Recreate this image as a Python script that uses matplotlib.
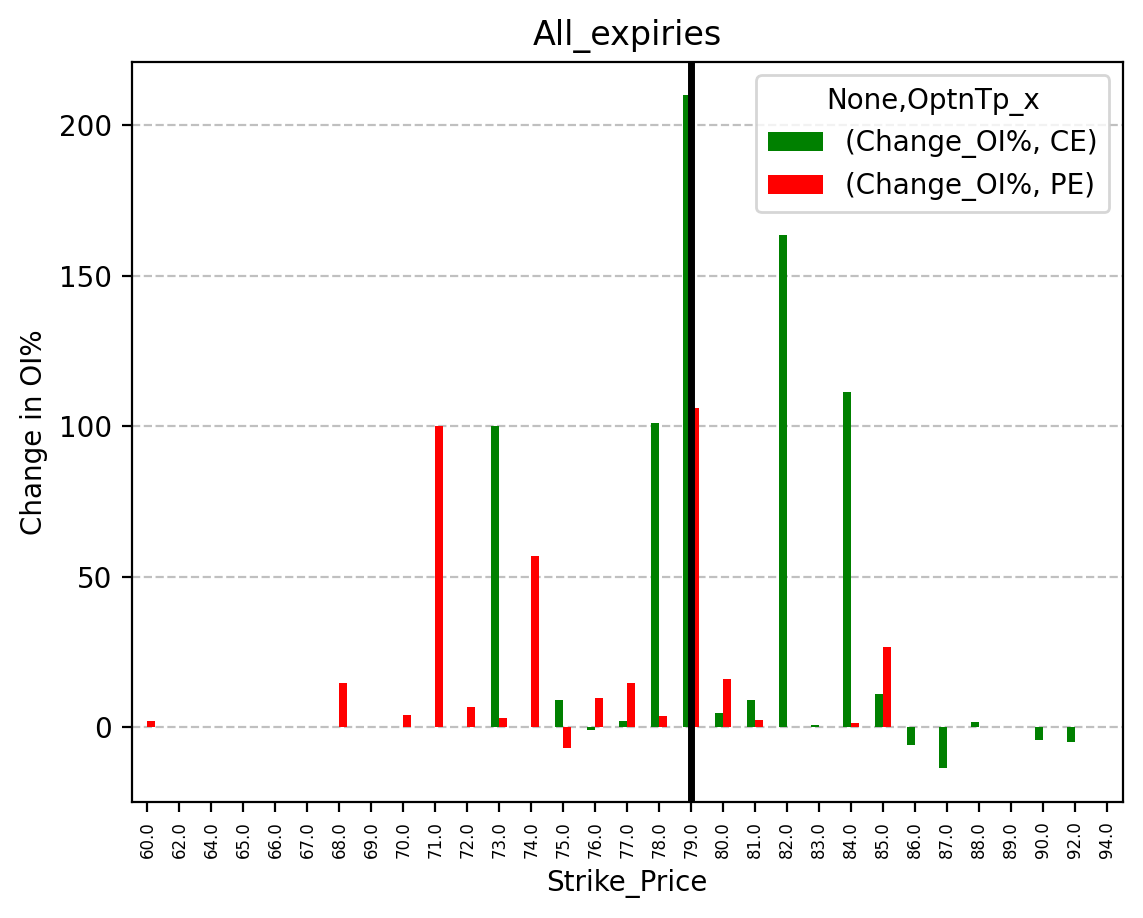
import numpy as np
import matplotlib
matplotlib.use("Agg")
import matplotlib.pyplot as plt

# strike prices and % change in open interest
strikes = ['60.0', '62.0', '64.0', '65.0', '66.0', '67.0', '68.0', '69.0', '70.0', '71.0',
           '72.0', '73.0', '74.0', '75.0', '76.0', '77.0', '78.0', '79.0', '80.0', '81.0',
           '82.0', '83.0', '84.0', '85.0', '86.0', '87.0', '88.0', '89.0', '90.0', '92.0', '94.0']
ce_change = [0, 0, 0, 0, 0, 0, 0, 0, 0, 0,
             0, 100, 0, 9, -1, 2, 101, 210, 4.7, 9,
             163.5, 0.6, 111.5, 11, -6, -13.7, 1.7, 0, -4.3, -5, 0]
pe_change = [2, 0, 0, 0, 0, 0, 14.6, 0, 4, 100,
             6.6, 3, 57, -7, 9.7, 14.6, 3.7, 106, 16, 2.3,
             0, 0, 1.3, 26.5, 0, 0, 0, 0, 0, 0, 0]
atm_strike = '79.0'

fig = plt.figure(figsize=(1143/200, 918/200), dpi=200)
ax = fig.add_axes([131.5/1143, 116/918, 991.5/1143, 740.5/918])

x = np.arange(len(strikes))
w = 0.25
ax.bar(x - w/2, ce_change, width=w, color='green', label='(Change_OI%, CE)', zorder=2)
ax.bar(x + w/2, pe_change, width=w, color='red', label='(Change_OI%, PE)', zorder=2)

ax.set_xlim(-0.5, len(strikes) - 0.5)
ax.set_xticks(x)
ax.set_xticklabels(strikes, rotation=90, fontsize=6)
ax.yaxis.grid(True, linestyle='--', color='#c0c0c0', linewidth=0.8, zorder=0)
ax.set_axisbelow(True)

ax.axvline(strikes.index(atm_strike), color='black', linewidth=2.5, zorder=3)

ax.set_title('All_expiries')
ax.set_xlabel('Strike_Price')
ax.set_ylabel('Change in OI%')
ax.legend(title='None,OptnTp_x', loc='upper right')

fig.savefig('out.png', dpi=200)
